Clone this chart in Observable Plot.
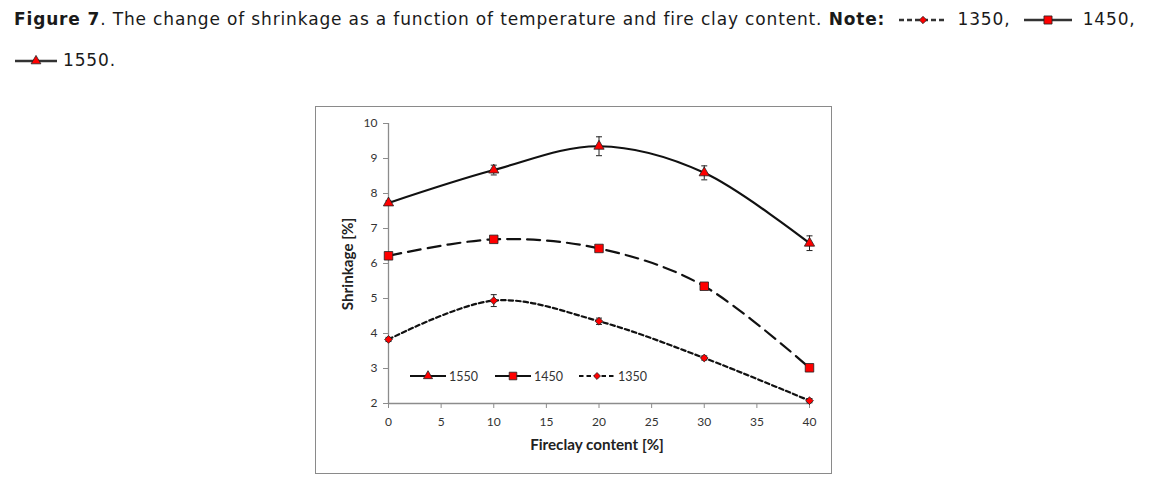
<!DOCTYPE html>
<html>
<head>
<meta charset="utf-8">
<script src="https://cdn.jsdelivr.net/npm/d3@7"></script>
<script src="https://cdn.jsdelivr.net/npm/@observablehq/plot@0.6"></script>
<style>
  html, body { margin: 0; padding: 0; background: #fff; }
  body { width: 1167px; height: 496px; position: relative; overflow: hidden; }
  #title { position: absolute; left: 14px; top: -1px; width: 1150px; font-family: "DejaVu Sans", sans-serif; font-size: 17px; letter-spacing: 0.85px; line-height: 41px; color: #1a1a1a; }
  #title b { font-weight: bold; }
  #title svg { vertical-align: middle; }
  #frame { position: absolute; left: 315px; top: 106px; width: 515px; height: 366px; border: 1.5px solid #8a8a8a; }
  #chart { position: absolute; left: 315px; top: 106px; }
  #legend { position: absolute; left: 0; top: 0; pointer-events: none; }
</style>
</head>
<body>
<div id="title"></div>
<div id="frame"></div>
<div id="chart"></div>
<svg id="legend" width="1167" height="496"></svg>
<script>
// ---- data ----
const fireclay = [0, 10, 20, 30, 40];
const temperatures = ["1550", "1450", "1350"];
const shrink1550 = [7.73, 8.67, 9.35, 8.59, 6.58];
const shrink1450 = [6.22, 6.69, 6.43, 5.35, 3.02];
const shrink1350 = [3.83, 4.94, 4.35, 3.30, 2.08];
const err1550 = [0.06, 0.14, 0.27, 0.2, 0.21];
const err1450 = [0.05, 0.05, 0.05, 0.05, 0.06];
const err1350 = [0.06, 0.17, 0.09, 0.06, 0.06];
const xTicks = [0, 5, 10, 15, 20, 25, 30, 35, 40];
const yTicks = [2, 3, 4, 5, 6, 7, 8, 9, 10];
const xLabel = "Fireclay content [%]";
const yLabel = "Shrinkage [%]";
const titleBold = "Figure 7";
const titleText = ". The change of shrinkage as a function of temperature and fire clay content. ";
const noteLabel = "Note:";

// ---- styles per series ----
const styles = {
  "1550": {symbol: "triangle", r: 3.8, dash: null},
  "1450": {symbol: "square", r: 4.8, dash: "13,7"},
  "1350": {symbol: "diamond2", r: 3.5, dash: "4.5,3"}
};
const seriesVals = {"1550": shrink1550, "1450": shrink1450, "1350": shrink1350};
const seriesErr = {"1550": err1550, "1450": err1450, "1350": err1350};

const rows = temperatures.flatMap(t => fireclay.map((x, i) => ({
  series: t, x, y: seriesVals[t][i], lo: seriesVals[t][i] - seriesErr[t][i], hi: seriesVals[t][i] + seriesErr[t][i]
})));

const capSymbol = { draw(ctx, size) { const r = Math.sqrt(size / Math.PI); ctx.moveTo(-r, 0); ctx.lineTo(r, 0); } };

const font = "Lato, 'Open Sans', sans-serif";
const marks = [];
// axes lines
marks.push(Plot.ruleX([0], {y1: 2, y2: 10, stroke: "#8c8c8c", strokeWidth: 1.3}));
marks.push(Plot.ruleY([2], {x1: 0, x2: 40, stroke: "#8c8c8c", strokeWidth: 1.3}));
marks.push(Plot.axisX({ticks: xTicks, tickSize: 5, tickPadding: 9, stroke: "#8c8c8c", fill: "#333", fontSize: 12, label: null, fontFamily: font}));
marks.push(Plot.axisY({ticks: yTicks, tickSize: 5, tickPadding: 6, stroke: "#8c8c8c", fill: "#333", fontSize: 12, label: null, fontFamily: font}));
// lines
for (const t of temperatures) {
  const d = rows.filter(r => r.series === t);
  marks.push(Plot.line(d, {x: "x", y: "y", curve: "cardinal", stroke: "#111", strokeWidth: 2.2, strokeDasharray: styles[t].dash}));
}
// error bars
marks.push(Plot.ruleX(rows, {x: "x", y1: "lo", y2: "hi", stroke: "#222", strokeWidth: 1}));
marks.push(Plot.dot(rows, {x: "x", y: "lo", symbol: capSymbol, r: 3, stroke: "#222", strokeWidth: 1}));
marks.push(Plot.dot(rows, {x: "x", y: "hi", symbol: capSymbol, r: 3, stroke: "#222", strokeWidth: 1}));
// markers
for (const t of temperatures) {
  const d = rows.filter(r => r.series === t);
  marks.push(Plot.dot(d, {x: "x", y: "y", symbol: styles[t].symbol, r: styles[t].r, fill: "#ff0000", stroke: "#222", strokeWidth: 0.8}));
}

const chart = Plot.plot({
  width: 517, height: 368,
  marginLeft: 73, marginRight: 23, marginTop: 17, marginBottom: 71,
  style: {fontFamily: font, background: "transparent", overflow: "visible"},
  x: {domain: [0, 40]},
  y: {domain: [2, 10]},
  marks
});
document.getElementById("chart").appendChild(chart);

// axis titles
const svgC = d3.select(chart);
svgC.append("text").attr("x", 282).attr("y", 344).attr("text-anchor", "middle")
  .attr("font-family", font).attr("font-weight", "bold").attr("font-size", 15.2).attr("fill", "#222").text(xLabel);
svgC.append("text").attr("transform", "translate(38,158) rotate(-90)").attr("text-anchor", "middle")
  .attr("font-family", font).attr("font-weight", "bold").attr("font-size", 15.2).attr("fill", "#222").text(yLabel);

// ---- in-chart legend ----
const leg = d3.select("#legend");
const legendPos = {"1550": 410, "1450": 495, "1350": 579};
const legY = 376;
function drawSym(g, t, cx, cy, scale) {
  const st = styles[t];
  const symMap = {triangle: d3.symbolTriangle, square: d3.symbolSquare, diamond2: d3.symbolDiamond2};
  g.append("path").attr("transform", `translate(${cx},${cy})`)
    .attr("d", d3.symbol(symMap[st.symbol], Math.PI * st.r * st.r * scale)())
    .attr("fill", "#ff0000").attr("stroke", "#222").attr("stroke-width", 0.8);
}
for (const t of temperatures) {
  const x0 = legendPos[t];
  const g = leg.append("g");
  g.append("line").attr("x1", x0).attr("x2", x0 + 36).attr("y1", legY).attr("y2", legY)
    .attr("stroke", "#111").attr("stroke-width", 2.2).attr("stroke-dasharray", t === "1350" ? "4.5,3" : null);
  drawSym(g, t, x0 + 18, legY, 0.8);
  g.append("text").attr("x", x0 + 39).attr("y", legY + 4.5).attr("font-family", font).attr("font-size", 12.5)
    .attr("fill", "#333").text(t);
}

// ---- title with note icons ----
const title = document.getElementById("title");
function icon(t, w, margin) {
  const svg = d3.create("svg").attr("width", w).attr("height", 14).style("margin", margin);
  svg.append("line").attr("x1", 1).attr("x2", w - 1).attr("y1", 7).attr("y2", 7)
    .attr("stroke", "#333").attr("stroke-width", 2.6).attr("stroke-dasharray", t === "1350" ? "5,3" : null);
  drawSym(svg, t, w / 2, 7, 0.9);
  return svg.node();
}
const b1 = document.createElement("b"); b1.textContent = titleBold; title.appendChild(b1);
title.appendChild(document.createTextNode(titleText));
const b2 = document.createElement("b"); b2.textContent = noteLabel; title.appendChild(b2);
title.appendChild(document.createTextNode(" "));
const order = ["1350", "1450", "1550"];
order.forEach((t, i) => {
  if (i === 2) {
    title.appendChild(document.createElement("br"));
    title.appendChild(icon(t, 44, "0 5px 0 0"));
  } else {
    title.appendChild(icon(t, 50, "0 10px 0 6px"));
  }
  title.appendChild(document.createTextNode(t + (i < 2 ? ", " : ".")));
});
</script>
</body>
</html>
